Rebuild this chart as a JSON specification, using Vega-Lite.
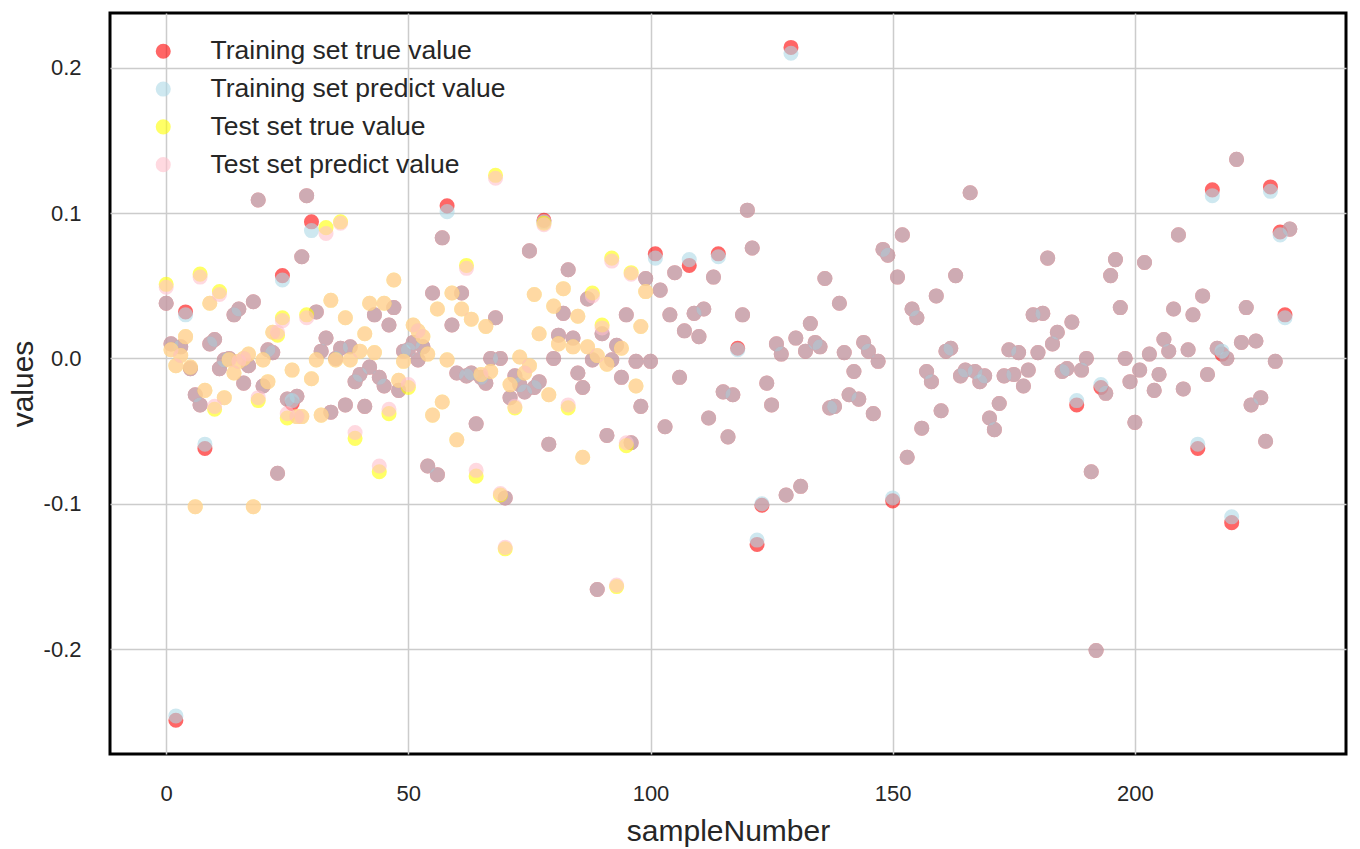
{
  "$schema": "https://vega.github.io/schema/vega-lite/v6.json",
  "width": 1236,
  "height": 741,
  "autosize": {"type": "none"},
  "padding": {"left": 110, "top": 13, "right": 14, "bottom": 95},
  "background": "white",
  "config": {
    "font": "Liberation Sans",
    "view": {"stroke": "black", "strokeWidth": 3},
    "axis": {
      "grid": true,
      "gridColor": "#cccccc",
      "gridWidth": 1.5,
      "domain": false,
      "ticks": false,
      "labelFontSize": 22,
      "labelColor": "#262626",
      "titleFontSize": 30,
      "titleFontWeight": "normal",
      "titleColor": "#262626"
    }
  },
  "datasets": {
    "train": [
      {"i":0,"t":0.038,"p":0.038},{"i":1,"t":0.010,"p":0.010},{"i":2,"t":-0.249,"p":-0.246},{"i":3,"t":0.008,"p":0.008},
      {"i":4,"t":0.032,"p":0.030},{"i":5,"t":-0.007,"p":-0.007},{"i":6,"t":-0.025,"p":-0.025},{"i":7,"t":-0.032,"p":-0.032},
      {"i":8,"t":-0.062,"p":-0.059},{"i":9,"t":0.010,"p":0.010},{"i":10,"t":0.013,"p":0.013},{"i":11,"t":-0.007,"p":-0.007},
      {"i":12,"t":-0.001,"p":-0.001},{"i":13,"t":0.0,"p":0.0},{"i":14,"t":0.030,"p":0.030},{"i":15,"t":0.034,"p":0.034},
      {"i":16,"t":-0.017,"p":-0.017},{"i":17,"t":-0.005,"p":-0.005},{"i":18,"t":0.039,"p":0.039},{"i":19,"t":0.109,"p":0.109},
      {"i":20,"t":-0.019,"p":-0.019},{"i":21,"t":0.006,"p":0.006},{"i":22,"t":0.004,"p":0.004},{"i":23,"t":-0.079,"p":-0.079},
      {"i":24,"t":0.057,"p":0.054},{"i":25,"t":-0.028,"p":-0.028},{"i":26,"t":-0.031,"p":-0.029},{"i":27,"t":-0.026,"p":-0.026},
      {"i":28,"t":0.070,"p":0.070},{"i":29,"t":0.112,"p":0.112},{"i":30,"t":0.094,"p":0.088},{"i":31,"t":0.032,"p":0.032},
      {"i":32,"t":0.005,"p":0.005},{"i":33,"t":0.014,"p":0.014},{"i":34,"t":-0.037,"p":-0.037},{"i":35,"t":0.0,"p":0.0},
      {"i":36,"t":0.007,"p":0.007},{"i":37,"t":-0.032,"p":-0.032},{"i":38,"t":0.008,"p":0.008},{"i":39,"t":-0.016,"p":-0.016},
      {"i":40,"t":-0.011,"p":-0.011},{"i":41,"t":-0.033,"p":-0.033},{"i":42,"t":-0.006,"p":-0.006},{"i":43,"t":0.030,"p":0.030},
      {"i":44,"t":-0.013,"p":-0.013},{"i":45,"t":-0.019,"p":-0.019},{"i":46,"t":0.023,"p":0.023},{"i":47,"t":0.035,"p":0.035},
      {"i":48,"t":-0.022,"p":-0.022},{"i":49,"t":0.005,"p":0.005},{"i":50,"t":0.006,"p":0.006},{"i":51,"t":0.011,"p":0.011},
      {"i":52,"t":-0.001,"p":-0.001},{"i":53,"t":0.008,"p":0.008},{"i":54,"t":-0.074,"p":-0.074},{"i":55,"t":0.045,"p":0.045},
      {"i":56,"t":-0.080,"p":-0.080},{"i":57,"t":0.083,"p":0.083},{"i":58,"t":0.105,"p":0.101},{"i":59,"t":0.023,"p":0.023},
      {"i":60,"t":-0.010,"p":-0.010},{"i":61,"t":0.045,"p":0.045},{"i":62,"t":-0.012,"p":-0.012},{"i":63,"t":-0.010,"p":-0.010},
      {"i":64,"t":-0.045,"p":-0.045},{"i":65,"t":-0.013,"p":-0.013},{"i":66,"t":-0.017,"p":-0.017},{"i":67,"t":0.0,"p":0.0},
      {"i":68,"t":0.028,"p":0.028},{"i":69,"t":0.0,"p":0.0},{"i":70,"t":-0.096,"p":-0.096},{"i":71,"t":-0.027,"p":-0.027},
      {"i":72,"t":-0.012,"p":-0.012},{"i":73,"t":-0.018,"p":-0.018},{"i":74,"t":-0.023,"p":-0.023},{"i":75,"t":0.074,"p":0.074},
      {"i":76,"t":-0.020,"p":-0.020},{"i":77,"t":-0.016,"p":-0.016},{"i":78,"t":0.095,"p":0.094},{"i":79,"t":-0.059,"p":-0.059},
      {"i":80,"t":0.0,"p":0.0},{"i":81,"t":0.016,"p":0.016},{"i":82,"t":0.031,"p":0.031},{"i":83,"t":0.061,"p":0.061},
      {"i":84,"t":0.014,"p":0.014},{"i":85,"t":-0.010,"p":-0.010},{"i":86,"t":-0.020,"p":-0.020},{"i":87,"t":0.041,"p":0.041},
      {"i":88,"t":-0.001,"p":-0.001},{"i":89,"t":-0.159,"p":-0.159},{"i":90,"t":0.017,"p":0.017},{"i":91,"t":-0.053,"p":-0.053},
      {"i":92,"t":-0.001,"p":-0.001},{"i":93,"t":0.009,"p":0.009},{"i":94,"t":-0.013,"p":-0.013},{"i":95,"t":0.030,"p":0.030},
      {"i":96,"t":-0.058,"p":-0.058},{"i":97,"t":-0.002,"p":-0.002},{"i":98,"t":-0.033,"p":-0.033},{"i":99,"t":0.055,"p":0.055},
      {"i":100,"t":-0.002,"p":-0.002},{"i":101,"t":0.072,"p":0.069},{"i":102,"t":0.047,"p":0.047},{"i":103,"t":-0.047,"p":-0.047},
      {"i":104,"t":0.030,"p":0.030},{"i":105,"t":0.059,"p":0.059},{"i":106,"t":-0.013,"p":-0.013},{"i":107,"t":0.019,"p":0.019},
      {"i":108,"t":0.064,"p":0.068},{"i":109,"t":0.031,"p":0.031},{"i":110,"t":0.015,"p":0.015},{"i":111,"t":0.034,"p":0.034},
      {"i":112,"t":-0.041,"p":-0.041},{"i":113,"t":0.056,"p":0.056},{"i":114,"t":0.072,"p":0.070},{"i":115,"t":-0.023,"p":-0.023},
      {"i":116,"t":-0.054,"p":-0.054},{"i":117,"t":-0.025,"p":-0.025},{"i":118,"t":0.007,"p":0.006},{"i":119,"t":0.030,"p":0.030},
      {"i":120,"t":0.102,"p":0.102},{"i":121,"t":0.076,"p":0.076},{"i":122,"t":-0.128,"p":-0.125},{"i":123,"t":-0.101,"p":-0.100},
      {"i":124,"t":-0.017,"p":-0.017},{"i":125,"t":-0.032,"p":-0.032},{"i":126,"t":0.010,"p":0.010},{"i":127,"t":0.003,"p":0.003},
      {"i":128,"t":-0.094,"p":-0.094},{"i":129,"t":0.214,"p":0.210},{"i":130,"t":0.014,"p":0.014},{"i":131,"t":-0.088,"p":-0.088},
      {"i":132,"t":0.005,"p":0.005},{"i":133,"t":0.024,"p":0.024},{"i":134,"t":0.011,"p":0.011},{"i":135,"t":0.008,"p":0.008},
      {"i":136,"t":0.055,"p":0.055},{"i":137,"t":-0.034,"p":-0.034},{"i":138,"t":-0.033,"p":-0.033},{"i":139,"t":0.038,"p":0.038},
      {"i":140,"t":0.004,"p":0.004},{"i":141,"t":-0.025,"p":-0.025},{"i":142,"t":-0.009,"p":-0.009},{"i":143,"t":-0.028,"p":-0.028},
      {"i":144,"t":0.011,"p":0.011},{"i":145,"t":0.005,"p":0.005},{"i":146,"t":-0.038,"p":-0.038},{"i":147,"t":-0.002,"p":-0.002},
      {"i":148,"t":0.075,"p":0.075},{"i":149,"t":0.071,"p":0.071},{"i":150,"t":-0.098,"p":-0.096},{"i":151,"t":0.056,"p":0.056},
      {"i":152,"t":0.085,"p":0.085},{"i":153,"t":-0.068,"p":-0.068},{"i":154,"t":0.034,"p":0.034},{"i":155,"t":0.028,"p":0.028},
      {"i":156,"t":-0.048,"p":-0.048},{"i":157,"t":-0.009,"p":-0.009},{"i":158,"t":-0.016,"p":-0.016},{"i":159,"t":0.043,"p":0.043},
      {"i":160,"t":-0.036,"p":-0.036},{"i":161,"t":0.005,"p":0.005},{"i":162,"t":0.007,"p":0.007},{"i":163,"t":0.057,"p":0.057},
      {"i":164,"t":-0.012,"p":-0.012},{"i":165,"t":-0.008,"p":-0.008},{"i":166,"t":0.114,"p":0.114},{"i":167,"t":-0.009,"p":-0.009},
      {"i":168,"t":-0.016,"p":-0.016},{"i":169,"t":-0.012,"p":-0.012},{"i":170,"t":-0.041,"p":-0.041},{"i":171,"t":-0.049,"p":-0.049},
      {"i":172,"t":-0.031,"p":-0.031},{"i":173,"t":-0.012,"p":-0.012},{"i":174,"t":0.006,"p":0.006},{"i":175,"t":-0.011,"p":-0.011},
      {"i":176,"t":0.004,"p":0.004},{"i":177,"t":-0.019,"p":-0.019},{"i":178,"t":-0.008,"p":-0.008},{"i":179,"t":0.030,"p":0.030},
      {"i":180,"t":0.004,"p":0.004},{"i":181,"t":0.031,"p":0.031},{"i":182,"t":0.069,"p":0.069},{"i":183,"t":0.010,"p":0.010},
      {"i":184,"t":0.018,"p":0.018},{"i":185,"t":-0.009,"p":-0.009},{"i":186,"t":-0.007,"p":-0.007},{"i":187,"t":0.025,"p":0.025},
      {"i":188,"t":-0.032,"p":-0.029},{"i":189,"t":-0.008,"p":-0.008},{"i":190,"t":0.0,"p":0.0},{"i":191,"t":-0.078,"p":-0.078},
      {"i":192,"t":-0.201,"p":-0.201},{"i":193,"t":-0.020,"p":-0.018},{"i":194,"t":-0.024,"p":-0.024},{"i":195,"t":0.057,"p":0.057},
      {"i":196,"t":0.068,"p":0.068},{"i":197,"t":0.035,"p":0.035},{"i":198,"t":0.0,"p":0.0},{"i":199,"t":-0.016,"p":-0.016},
      {"i":200,"t":-0.044,"p":-0.044},{"i":201,"t":-0.008,"p":-0.008},{"i":202,"t":0.066,"p":0.066},{"i":203,"t":0.003,"p":0.003},
      {"i":204,"t":-0.022,"p":-0.022},{"i":205,"t":-0.011,"p":-0.011},{"i":206,"t":0.013,"p":0.013},{"i":207,"t":0.005,"p":0.005},
      {"i":208,"t":0.034,"p":0.034},{"i":209,"t":0.085,"p":0.085},{"i":210,"t":-0.021,"p":-0.021},{"i":211,"t":0.006,"p":0.006},
      {"i":212,"t":0.030,"p":0.030},{"i":213,"t":-0.062,"p":-0.059},{"i":214,"t":0.043,"p":0.043},{"i":215,"t":-0.011,"p":-0.011},
      {"i":216,"t":0.116,"p":0.112},{"i":217,"t":0.007,"p":0.007},{"i":218,"t":0.003,"p":0.005},{"i":219,"t":0.0,"p":0.0},
      {"i":220,"t":-0.113,"p":-0.109},{"i":221,"t":0.137,"p":0.137},{"i":222,"t":0.011,"p":0.011},{"i":223,"t":0.035,"p":0.035},
      {"i":224,"t":-0.032,"p":-0.032},{"i":225,"t":0.012,"p":0.012},{"i":226,"t":-0.027,"p":-0.027},{"i":227,"t":-0.057,"p":-0.057},
      {"i":228,"t":0.118,"p":0.115},{"i":229,"t":-0.002,"p":-0.002},{"i":230,"t":0.087,"p":0.085},{"i":231,"t":0.030,"p":0.028},
      {"i":232,"t":0.089,"p":0.089}
    ],
    "test": [
      {"i":0,"t":0.051,"p":0.049},{"i":1,"t":0.006,"p":0.006},{"i":2,"t":-0.005,"p":-0.005},{"i":3,"t":0.002,"p":0.002},
      {"i":4,"t":0.015,"p":0.015},{"i":5,"t":-0.006,"p":-0.006},{"i":6,"t":-0.102,"p":-0.102},{"i":7,"t":0.058,"p":0.056},
      {"i":8,"t":-0.022,"p":-0.022},{"i":9,"t":0.038,"p":0.038},{"i":10,"t":-0.035,"p":-0.033},{"i":11,"t":0.046,"p":0.044},
      {"i":12,"t":-0.027,"p":-0.027},{"i":13,"t":-0.001,"p":-0.001},{"i":14,"t":-0.010,"p":-0.010},{"i":15,"t":-0.002,"p":-0.002},
      {"i":16,"t":0.0,"p":0.0},{"i":17,"t":0.003,"p":0.003},{"i":18,"t":-0.102,"p":-0.102},{"i":19,"t":-0.029,"p":-0.027},
      {"i":20,"t":-0.001,"p":-0.001},{"i":21,"t":-0.016,"p":-0.016},{"i":22,"t":0.018,"p":0.018},{"i":23,"t":0.016,"p":0.018},
      {"i":24,"t":0.028,"p":0.026},{"i":25,"t":-0.041,"p":-0.038},{"i":26,"t":-0.008,"p":-0.008},{"i":27,"t":-0.040,"p":-0.040},
      {"i":28,"t":-0.040,"p":-0.040},{"i":29,"t":0.030,"p":0.028},{"i":30,"t":-0.014,"p":-0.014},{"i":31,"t":-0.001,"p":-0.001},
      {"i":32,"t":-0.039,"p":-0.039},{"i":33,"t":0.090,"p":0.086},{"i":34,"t":0.040,"p":0.040},{"i":35,"t":-0.001,"p":-0.001},
      {"i":36,"t":0.094,"p":0.093},{"i":37,"t":0.028,"p":0.028},{"i":38,"t":-0.001,"p":-0.001},{"i":39,"t":-0.055,"p":-0.051},
      {"i":40,"t":0.005,"p":0.005},{"i":41,"t":0.017,"p":0.017},{"i":42,"t":0.038,"p":0.038},{"i":43,"t":0.004,"p":0.004},
      {"i":44,"t":-0.078,"p":-0.074},{"i":45,"t":0.038,"p":0.038},{"i":46,"t":-0.038,"p":-0.035},{"i":47,"t":0.054,"p":0.054},
      {"i":48,"t":-0.015,"p":-0.015},{"i":49,"t":-0.002,"p":-0.002},{"i":50,"t":-0.020,"p":-0.018},{"i":51,"t":0.023,"p":0.023},
      {"i":52,"t":0.019,"p":0.019},{"i":53,"t":0.015,"p":0.015},{"i":54,"t":0.003,"p":0.003},{"i":55,"t":-0.039,"p":-0.039},
      {"i":56,"t":0.034,"p":0.034},{"i":57,"t":-0.030,"p":-0.030},{"i":58,"t":-0.001,"p":-0.001},{"i":59,"t":0.045,"p":0.045},
      {"i":60,"t":-0.056,"p":-0.056},{"i":61,"t":0.034,"p":0.034},{"i":62,"t":0.064,"p":0.062},{"i":63,"t":0.027,"p":0.027},
      {"i":64,"t":-0.081,"p":-0.077},{"i":65,"t":-0.011,"p":-0.011},{"i":66,"t":0.022,"p":0.022},{"i":67,"t":-0.009,"p":-0.009},
      {"i":68,"t":0.126,"p":0.124},{"i":69,"t":-0.094,"p":-0.093},{"i":70,"t":-0.131,"p":-0.130},{"i":71,"t":-0.018,"p":-0.018},
      {"i":72,"t":-0.034,"p":-0.033},{"i":73,"t":0.001,"p":0.001},{"i":74,"t":-0.010,"p":-0.010},{"i":75,"t":-0.005,"p":-0.005},
      {"i":76,"t":0.044,"p":0.044},{"i":77,"t":0.017,"p":0.017},{"i":78,"t":0.093,"p":0.092},{"i":79,"t":-0.025,"p":-0.025},
      {"i":80,"t":0.036,"p":0.036},{"i":81,"t":0.010,"p":0.010},{"i":82,"t":0.048,"p":0.048},{"i":83,"t":-0.034,"p":-0.032},
      {"i":84,"t":0.008,"p":0.008},{"i":85,"t":0.029,"p":0.029},{"i":86,"t":-0.068,"p":-0.068},{"i":87,"t":0.008,"p":0.008},
      {"i":88,"t":0.045,"p":0.043},{"i":89,"t":0.002,"p":0.002},{"i":90,"t":0.023,"p":0.021},{"i":91,"t":-0.004,"p":-0.004},
      {"i":92,"t":0.069,"p":0.067},{"i":93,"t":-0.157,"p":-0.156},{"i":94,"t":0.007,"p":0.007},{"i":95,"t":-0.060,"p":-0.058},
      {"i":96,"t":0.059,"p":0.058},{"i":97,"t":-0.019,"p":-0.019},{"i":98,"t":0.022,"p":0.022},{"i":99,"t":0.046,"p":0.046}
    ]
  },
  "encoding": {
    "x": {
      "field": "i",
      "type": "quantitative",
      "title": "sampleNumber",
      "scale": {"domain": [-11.6, 243.6], "nice": false, "zero": false},
      "axis": {"values": [0, 50, 100, 150, 200], "labelPadding": 29, "titlePadding": 12}
    }
  },
  "layer": [
    {
      "data": {"name": "train"},
      "mark": {"type": "circle", "size": 227, "opacity": 0.6},
      "encoding": {
        "y": {
          "field": "t",
          "type": "quantitative",
          "title": "values",
          "scale": {"domain": [-0.2722, 0.2377], "nice": false, "zero": false},
          "axis": {
            "values": [-0.2, -0.1, 0, 0.1, 0.2],
            "labelExpr": "replace(format(datum.value, '.1f'), '\u2212', '-')",
            "labelPadding": 29,
            "titlePadding": 5
          }
        },
        "color": {
          "datum": "Training set true value",
          "type": "nominal",
          "scale": {
            "domain": ["Training set true value", "Training set predict value", "Test set true value", "Test set predict value"],
            "range": ["#ff0000", "#add8e6", "#ffff00", "#ffc0cb"]
          },
          "legend": {
            "title": null,
            "orient": "none",
            "legendX": 40,
            "legendY": 25,
            "labelFontSize": 26.5,
            "labelColor": "#262626",
            "labelLimit": 0,
            "labelOffset": 34,
            "rowPadding": 10.8,
            "symbolType": "circle",
            "symbolSize": 227,
            "symbolOpacity": 0.6,
            "symbolStrokeWidth": 0
          }
        }
      }
    },
    {
      "data": {"name": "train"},
      "mark": {"type": "circle", "size": 227, "opacity": 0.6},
      "encoding": {
        "y": {"field": "p", "type": "quantitative"},
        "color": {"datum": "Training set predict value", "type": "nominal"}
      }
    },
    {
      "data": {"name": "test"},
      "mark": {"type": "circle", "size": 227, "opacity": 0.6},
      "encoding": {
        "y": {"field": "t", "type": "quantitative"},
        "color": {"datum": "Test set true value", "type": "nominal"}
      }
    },
    {
      "data": {"name": "test"},
      "mark": {"type": "circle", "size": 227, "opacity": 0.6},
      "encoding": {
        "y": {"field": "p", "type": "quantitative"},
        "color": {"datum": "Test set predict value", "type": "nominal"}
      }
    }
  ]
}
